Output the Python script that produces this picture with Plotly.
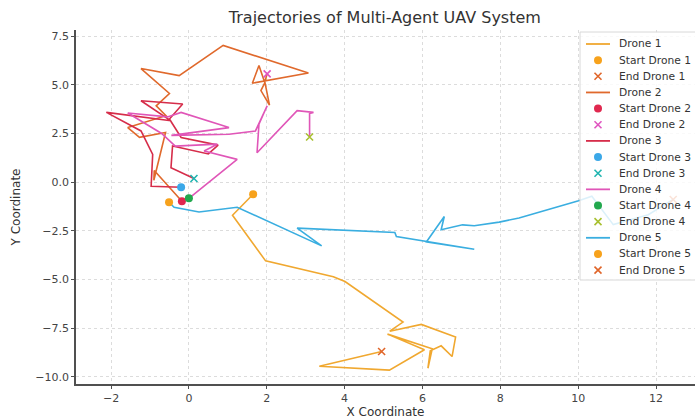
import plotly.graph_objects as go

# ---------- Data ----------
drone1_x = [1.65, 1.12, 1.97, 3.71, 4.01, 5.50, 5.16, 5.97, 6.85, 6.76, 6.48, 6.20, 6.14, 6.25, 5.10, 6.05, 5.15, 3.35, 4.95]
drone1_y = [-0.62, -1.70, -4.04, -4.85, -5.10, -7.18, -7.65, -7.30, -7.95, -8.95, -8.40, -8.65, -9.55, -8.55, -7.80, -8.60, -9.65, -9.45, -8.69]

drone2_x = [-0.18, -0.89, -0.90, -0.60, -1.27, -1.57, -0.59, -0.84, -0.50, -1.23, -0.25, 0.88, 3.07, 1.63, 1.80, 1.95, 1.85, 2.07, 1.95, 2.01]
drone2_y = [-0.98, 0.60, 0.10, 2.55, 2.30, 2.80, 3.41, 3.92, 4.55, 5.83, 5.47, 7.02, 5.60, 5.08, 5.99, 5.10, 4.70, 3.95, 5.15, 5.56]

drone3_x = [-0.20, -0.97, -0.93, -1.23, -2.12, -0.46, -1.23, -0.16, -0.50, -0.20, 0.75, 0.50, -0.42, -0.46, 0.13]
drone3_y = [-0.26, -0.21, 1.43, 2.63, 3.58, 3.15, 4.18, 4.01, 3.24, 2.29, 1.90, 1.45, 1.86, 0.74, 0.19]

drone4_x = [0.00, 1.24, 0.39, 0.73, -0.35, -0.70, -1.57, -0.55, -0.20, 1.03, -0.45, 1.03, 1.71, 2.01, 1.80, 1.75, 2.78, 3.20, 3.10, 3.10]
drone4_y = [-0.83, 1.17, 1.60, 1.95, 1.85, 2.50, 3.55, 3.35, 3.58, 2.80, 2.40, 2.46, 2.63, 3.92, 2.98, 1.51, 3.67, 3.58, 3.53, 2.32]

drone5_x = [-0.51, -0.38, 0.26, 1.24, 3.41, 2.78, 5.29, 5.33, 7.33, 6.10, 6.56, 6.48, 7.03, 7.33, 7.97, 8.48, 10.01, 10.35, 10.90, 11.80, 12.44]
drone5_y = [-1.03, -1.29, -1.53, -1.29, -3.27, -2.36, -2.58, -2.79, -3.44, -3.07, -1.76, -2.44, -2.19, -2.24, -2.05, -1.84, -0.95, -0.72, -2.18, -1.67, -0.89]

drones = ["Drone 1", "Drone 2", "Drone 3", "Drone 4", "Drone 5"]
xs = [drone1_x, drone2_x, drone3_x, drone4_x, drone5_x]
ys = [drone1_y, drone2_y, drone3_y, drone4_y, drone5_y]

line_colors = ["#F0A830", "#E0692C", "#D62D4A", "#E056B8", "#3AAEE0"]
start_colors = ["#F7A21C", "#E0284F", "#3BA8E8", "#22A84E", "#F7A21C"]
end_colors = ["#E0652A", "#E055C0", "#20B5B0", "#A8C030", "#E0652A"]

FONT = "DejaVu Sans"
W, H = 695, 419
L, R, T, B = 76, 0, 30, 35
PW, PH = W - L - R, H - T - B


def px(xp):
    return (xp - L) / PW


def py(yp):
    return (H - B - yp) / PH


fig = go.Figure()
for name, x, y, lc, sc, ec in zip(drones, xs, ys, line_colors, start_colors, end_colors):
    fig.add_trace(go.Scatter(x=x, y=y, mode="lines", name=name,
                             line=dict(color=lc, width=1.6)))
    fig.add_trace(go.Scatter(x=[x[0]], y=[y[0]], mode="markers", name=f"Start {name}",
                             marker=dict(color=sc, size=8, symbol="circle")))
    fig.add_trace(go.Scatter(x=[x[-1]], y=[y[-1]], mode="markers", name=f"End {name}",
                             marker=dict(color=ec, size=7, symbol="x-thin",
                                         line=dict(color=ec, width=1.6))))

# ---------- Legend drawn by hand (compact matplotlib-like spacing) ----------
shapes = [dict(type="rect", xref="paper", yref="paper", layer="above",
               x0=px(580), x1=px(700), y0=py(280), y1=py(32),
               fillcolor="rgba(255,255,255,0.82)", line=dict(color="#d8d8d8", width=1))]
annotations = []
row = 0
for name, lc, sc, ec in zip(drones, line_colors, start_colors, end_colors):
    for kind, label in (("line", name), ("start", f"Start {name}"), ("end", f"End {name}")):
        yc = 44 + 16.15 * row
        if kind == "line":
            shapes.append(dict(type="line", xref="paper", yref="paper", layer="above",
                               x0=px(586), x1=px(610), y0=py(yc), y1=py(yc),
                               line=dict(color=lc, width=1.8)))
        elif kind == "start":
            shapes.append(dict(type="circle", xref="paper", yref="paper", layer="above",
                               x0=px(594), x1=px(602), y0=py(yc + 4), y1=py(yc - 4),
                               fillcolor=sc, line=dict(color=sc, width=0)))
        else:
            for d in (1, -1):
                shapes.append(dict(type="line", xref="paper", yref="paper", layer="above",
                                   x0=px(594.5), x1=px(601.5), y0=py(yc - 3.5 * d), y1=py(yc + 3.5 * d),
                                   line=dict(color=ec, width=1.6)))
        annotations.append(dict(text=label, xref="paper", yref="paper", x=px(617), y=py(yc),
                                xanchor="left", yanchor="middle", showarrow=False,
                                font=dict(family=FONT, size=10.7, color="#333333")))
        row += 1

axis_style = dict(
    showgrid=True, gridcolor="#dcdcdc", griddash="dot", gridwidth=1,
    zeroline=False, showline=True, linecolor="#505050", linewidth=1.5,
    ticks="outside", ticklen=3, tickcolor="#505050",
    tickfont=dict(family=FONT, size=11, color="#444444"),
    mirror=False, automargin=False,
)

fig.update_layout(
    width=W, height=H,
    margin=dict(l=L, r=R, t=T, b=B),
    paper_bgcolor="white", plot_bgcolor="white",
    showlegend=False,
    font=dict(family=FONT, color="#333333"),
    title=dict(text="Trajectories of Multi-Agent UAV System", xref="paper", x=0.499, xanchor="center",
               yref="container", y=0.958, yanchor="middle",
               font=dict(family=FONT, size=16, color="#333333")),
    xaxis=dict(range=[-2.9, 13.0], tickvals=[-2, 0, 2, 4, 6, 8, 10, 12],
               ticktext=["\u22122", "0", "2", "4", "6", "8", "10", "12"],
               title=dict(text="X Coordinate", font=dict(family=FONT, size=12, color="#333333"), standoff=3),
               **axis_style),
    yaxis=dict(range=[-10.36, 7.81], tickvals=[-10, -7.5, -5, -2.5, 0, 2.5, 5, 7.5],
               ticktext=["\u221210.0", "\u22127.5", "\u22125.0", "\u22122.5", "0.0", "2.5", "5.0", "7.5"],
               title=dict(text="Y Coordinate", font=dict(family=FONT, size=12, color="#333333"), standoff=12),
               **axis_style),
    shapes=shapes,
    annotations=annotations,
)

# page body has a default 8px margin; remove it so the figure fills the window
fig.write_html("out.html", config={"displayModeBar": False},
               post_script="document.body.style.margin='0px';")
